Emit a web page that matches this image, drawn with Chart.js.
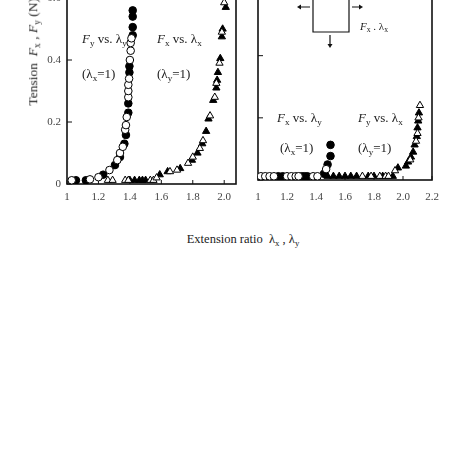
<!DOCTYPE html>
<html>
<head>
<meta charset="utf-8">
<script src="https://cdn.jsdelivr.net/npm/chart.js@4.4.1/dist/chart.umd.min.js"></script>
<style>
  body { margin: 0; background: #fff; width: 463px; height: 463px; overflow: hidden; position: relative; }
  canvas { position: absolute; }
  .t { position: absolute; font-family: "Liberation Serif", serif; font-size: 13px; line-height: 1; white-space: nowrap; color: #222; }
  .t sub { font-size: 70%; vertical-align: -0.3em; line-height: 0; }
  .t i { font-style: italic; }
</style>
</head>
<body>
<canvas id="left" width="250" height="240" style="left:0;top:-20px"></canvas>
<canvas id="right" width="263" height="240" style="left:200px;top:-20px"></canvas>

<div class="t" style="left:82px;top:32px"><i>F</i><sub>y</sub> vs. λ<sub>y</sub></div>
<div class="t" style="left:82px;top:67px">(λ<sub>x</sub>=1)</div>
<div class="t" style="left:157px;top:32px"><i>F</i><sub>x</sub> vs. λ<sub>x</sub></div>
<div class="t" style="left:157px;top:67px">(λ<sub>y</sub>=1)</div>

<div class="t" style="left:277px;top:111px"><i>F</i><sub>x</sub> vs. λ<sub>y</sub></div>
<div class="t" style="left:280px;top:141px">(λ<sub>x</sub>=1)</div>
<div class="t" style="left:358px;top:111px"><i>F</i><sub>y</sub> vs. λ<sub>x</sub></div>
<div class="t" style="left:358px;top:141px">(λ<sub>y</sub>=1)</div>
<div class="t" style="left:360px;top:21px;font-size:11px"><i>F</i><sub>x</sub> . λ<sub>x</sub></div>

<div class="t" style="left:143px;width:200px;text-align:center;top:233px;font-size:12.5px">Extension ratio&nbsp; λ<sub>x</sub> , λ<sub>y</sub></div>
<div class="t" style="left:-37px;width:140px;text-align:center;top:45px;font-size:13.5px;transform:rotate(-90deg);transform-origin:center">Tension&nbsp; <i>F</i><sub>x</sub> , <i>F</i><sub>y</sub> (N)</div>

<script>
// left panel: Fy vs λy (circles), Fx vs λx (triangles)
const lyFilledX = [1.057, 1.12, 1.23, 1.305, 1.337, 1.365, 1.375, 1.39, 1.39, 1.397, 1.397, 1.418, 1.418, 1.418, 1.418];
const lyFilledY = [0.012, 0.012, 0.03, 0.061, 0.087, 0.13, 0.158, 0.23, 0.26, 0.36, 0.38, 0.48, 0.506, 0.54, 0.56];
const lyOpenX = [1.03, 1.146, 1.2, 1.27, 1.32, 1.337, 1.355, 1.37, 1.375, 1.38, 1.39, 1.39, 1.39, 1.395, 1.4, 1.405, 1.405, 1.41];
const lyOpenY = [0.012, 0.015, 0.022, 0.045, 0.077, 0.1, 0.12, 0.175, 0.19, 0.216, 0.28, 0.3, 0.32, 0.34, 0.4, 0.43, 0.455, 0.47];
const lxFilledX = [1.4, 1.43, 1.46, 1.48, 1.5, 1.59, 1.64, 1.72, 1.795, 1.83, 1.86, 1.885, 1.9, 1.93, 1.95, 1.955, 1.96, 1.975, 1.985, 1.99, 2.01];
const lxFilledY = [0.012, 0.012, 0.012, 0.012, 0.012, 0.03, 0.04, 0.05, 0.077, 0.1, 0.13, 0.17, 0.21, 0.27, 0.31, 0.335, 0.36, 0.405, 0.475, 0.5, 0.57];
const lxOpenX = [1.26, 1.29, 1.37, 1.39, 1.53, 1.55, 1.57, 1.655, 1.7, 1.77, 1.8, 1.845, 1.865, 1.91, 1.94, 1.95, 1.97, 1.985, 2.0];
const lxOpenY = [0.012, 0.012, 0.012, 0.012, 0.012, 0.012, 0.02, 0.04, 0.045, 0.067, 0.087, 0.115, 0.14, 0.22, 0.28, 0.325, 0.39, 0.49, 0.585];

// right panel: Fx vs λy (circles), Fy vs λx (triangles)
const rxFilledX = [1.14, 1.17, 1.3, 1.32, 1.34, 1.455, 1.48, 1.5, 1.5];
const rxFilledY = [0.012, 0.012, 0.012, 0.012, 0.012, 0.02, 0.05, 0.077, 0.113];
const rxOpenX = [1.02, 1.05, 1.08, 1.11, 1.2, 1.23, 1.26, 1.28, 1.38, 1.41, 1.47];
const rxOpenY = [0.012, 0.012, 0.012, 0.012, 0.012, 0.012, 0.012, 0.012, 0.012, 0.012, 0.035];
const ryFilledX = [1.48, 1.52, 1.56, 1.6, 1.64, 1.68, 1.76, 1.8, 1.86, 1.93, 1.965, 2.02, 2.035, 2.055, 2.07, 2.08, 2.095, 2.1, 2.105, 2.11];
const ryFilledY = [0.012, 0.012, 0.012, 0.012, 0.012, 0.012, 0.012, 0.012, 0.012, 0.012, 0.039, 0.045, 0.058, 0.074, 0.09, 0.113, 0.14, 0.168, 0.19, 0.216];
const ryOpenX = [1.72, 1.78, 1.84, 1.88, 1.9, 1.945, 2.05, 2.09, 2.1, 2.107, 2.117];
const ryOpenY = [0.012, 0.012, 0.012, 0.012, 0.012, 0.03, 0.065, 0.125, 0.15, 0.2, 0.24];

const leftXTicks = [1, 1.2, 1.4, 1.6, 1.8, 2.0];
const rightXTicks = [1, 1.2, 1.4, 1.6, 1.8, 2.0, 2.2];
const yTicks = [0, 0.2, 0.4, 0.6];

function pts(xs, ys) {
  return xs.map((x, i) => ({ x: x, y: ys[i] }));
}

function ds(xs, ys, style, filled) {
  return {
    data: pts(xs, ys),
    pointStyle: style,
    pointRadius: style == "triangle" ? 4.2 : 3.8,
    backgroundColor: filled ? "#000" : "#fff",
    borderColor: "#000",
    borderWidth: 1,
    showLine: false,
  };
}

// box + inner tick marks
const frame = {
  id: "frame",
  beforeDatasetsDraw(chart) {
    const { ctx, chartArea: a, scales } = chart;
    ctx.save();
    ctx.strokeStyle = "#111";
    ctx.lineWidth = 1.6;
    ctx.strokeRect(a.left, a.top, a.right - a.left, a.bottom - a.top);
    ctx.lineWidth = 1;
    ctx.beginPath();
    scales.x.ticks.forEach((t) => {
      const px = scales.x.getPixelForValue(t.value);
      ctx.moveTo(px, a.bottom);
      ctx.lineTo(px, a.bottom - 4);
    });
    scales.y.ticks.forEach((t) => {
      const py = scales.y.getPixelForValue(t.value);
      ctx.moveTo(a.left, py);
      ctx.lineTo(a.left + 5, py);
    });
    ctx.stroke();
    ctx.restore();
  },
};

// little sketch of the stretched sheet
const inset = {
  id: "inset",
  afterDraw(chart) {
    const ctx = chart.ctx;
    ctx.save();
    ctx.strokeStyle = "#111";
    ctx.fillStyle = "#111";
    ctx.lineWidth = 1.2;
    ctx.beginPath();
    ctx.moveTo(113, 0);
    ctx.lineTo(113, 52);
    ctx.lineTo(149, 52);
    ctx.lineTo(149, 0);
    ctx.moveTo(110, 27);
    ctx.lineTo(99, 27);
    ctx.moveTo(152, 27);
    ctx.lineTo(161, 27);
    ctx.moveTo(130, 55);
    ctx.lineTo(130, 66);
    ctx.stroke();
    const head = (x, y, dx, dy) => {
      ctx.beginPath();
      ctx.moveTo(x, y);
      ctx.lineTo(x - dx * 4 + dy * 2.5, y - dy * 4 + dx * 2.5);
      ctx.lineTo(x - dx * 4 - dy * 2.5, y - dy * 4 - dx * 2.5);
      ctx.closePath();
      ctx.fill();
    };
    head(97, 27, -1, 0);
    head(163, 27, 1, 0);
    head(130, 68, 0, 1);
    ctx.restore();
  },
};

function makeChart(id, datasets, xMax, xTicks, yLabels, pad, yWidth, xHeight, xPad, plugins) {
  return new Chart(id, {
    type: "scatter",
    data: { datasets: datasets },
    options: {
      responsive: false,
      animation: false,
      devicePixelRatio: 1,
      layout: { padding: pad },
      plugins: { legend: { display: false }, tooltip: { enabled: false } },
      scales: {
        x: {
          type: "linear",
          min: 1,
          max: xMax,
          afterBuildTicks: (s) => {
            s.ticks = xTicks.map((v) => ({ value: v }));
          },
          afterFit: (s) => {
            s.height = xHeight;
          },
          grid: { display: false, drawTicks: false },
          border: { display: false },
          ticks: {
            padding: xPad,
            color: "#444",
            font: { family: "Liberation Serif", size: 11 },
            callback: (v) => (v == 1 ? "1" : v.toFixed(1)),
            maxRotation: 0,
          },
        },
        y: {
          type: "linear",
          min: 0,
          max: 0.6,
          afterBuildTicks: (s) => {
            s.ticks = yTicks.map((v) => ({ value: v }));
          },
          afterFit: (s) => {
            s.width = yWidth;
          },
          grid: { display: false, drawTicks: false },
          border: { display: false },
          ticks: {
            display: yLabels,
            padding: 6,
            color: "#444",
            font: { family: "Liberation Serif", size: 11 },
            callback: (v) => (v == 0 ? "0" : v.toFixed(1)),
          },
        },
      },
    },
    plugins: plugins,
  });
}

makeChart(
  "left",
  [
    ds(lxOpenX, lxOpenY, "triangle", false),
    ds(lxFilledX, lxFilledY, "triangle", true),
    ds(lyOpenX, lyOpenY, "circle", false),
    ds(lyFilledX, lyFilledY, "circle", true),
  ],
  2.075, leftXTicks, true,
  { top: 18, right: 14, left: 0, bottom: 0 },
  67, 36, 7, [frame]
);

makeChart(
  "right",
  [
    ds(ryOpenX, ryOpenY, "triangle", false),
    ds(ryFilledX, ryFilledY, "triangle", true),
    ds(rxOpenX, rxOpenY, "circle", false),
    ds(rxFilledX, rxFilledY, "circle", true),
  ],
  2.2, rightXTicks, false,
  { top: 13.5, right: 31, left: 0, bottom: 0 },
  58, 40, 11, [frame, inset]
);
</script>
</body>
</html>
